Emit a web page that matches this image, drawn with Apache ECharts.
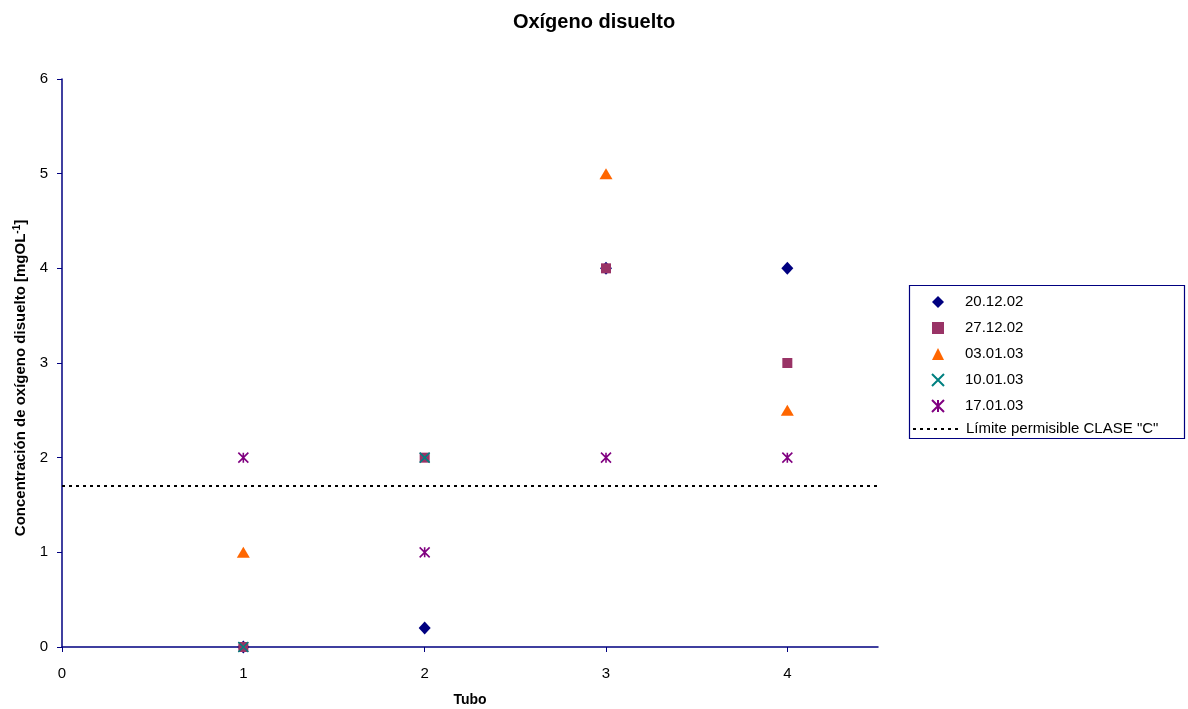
<!DOCTYPE html>
<html>
<head>
<meta charset="utf-8">
<script src="https://cdn.jsdelivr.net/npm/echarts@6/dist/echarts.min.js"></script>
<style>
  html, body { margin: 0; padding: 0; background: #fff; }
  #chart-container { width: 1188px; height: 709px; }
</style>
</head>
<body>
<div id="chart-container"></div>
<script>
const seriesNames = ['20.12.02', '27.12.02', '03.01.03', '10.01.03', '17.01.03'];
const tubos = [1, 2, 3, 4];
const d201202 = [0, 0.2, 4, 4];
const d271202 = [0, 2, 4, 3];
const d030103 = [1, null, 5, 2.5];
const d100103 = [0, 2, null, null];
const d170103 = [2, 1, 2, 2];
const limitName = 'Límite permisible CLASE "C"';
const limitValue = 1.7;
const limitRange = [0, 4.5];

const chartContainer = document.getElementById('chart-container');
const myChart = echarts.init(chartContainer);

const toPoints = (vals) => tubos.map((t, i) => [t, vals[i]]).filter(p => p[1] !== null);

const markers = [
    { data: d201202, symbol: 'diamond', size: [12, 13], color: '#000080' },
    { data: d271202, symbol: 'rect', size: 10, color: '#993366' },
    { data: d030103, symbol: 'triangle', size: [13, 11], color: '#FF6600' },
    { data: d100103, symbol: 'path://M0,0L10,10M10,0L0,10', size: 10, color: '#008080', stroke: true },
    { data: d170103, symbol: 'path://M0,0L10,10M10,0L0,10M5,0L5,10', size: 10, color: '#800080', stroke: true }
];

const series = markers.map((m, i) => ({
    name: seriesNames[i],
    type: 'scatter',
    symbol: m.symbol,
    symbolSize: m.size,
    itemStyle: m.stroke
        ? { color: 'rgba(0,0,0,0)', borderColor: m.color, borderWidth: 1.6, opacity: 1 }
        : { color: m.color, opacity: 1 },
    data: toPoints(m.data)
}));

series.push({
    name: limitName,
    type: 'line',
    symbol: 'none',
    itemStyle: { color: 'rgba(0,0,0,0)' },
    lineStyle: { color: '#000', width: 2, type: [3, 4] },
    data: [[limitRange[0], limitValue], [limitRange[1], limitValue]]
});

const axisColor = '#000080';
const legendText = { fontSize: 15, color: '#000', lineHeight: 16 };

const options = {
    backgroundColor: '#fff',
    animation: false,
    textStyle: { fontFamily: 'Liberation Sans, Arial, sans-serif' },
    title: {
        text: 'Oxígeno disuelto',
        left: 'center',
        top: 7,
        textStyle: { fontSize: 20, fontWeight: 'bold', color: '#000' }
    },
    // legend frame
    graphic: [{
        type: 'rect',
        left: 907,
        top: 283,
        shape: { width: 275, height: 153 },
        style: { fill: 'none', stroke: axisColor, lineWidth: 1.2 },
        silent: true
    }],
    legend: [{
        orient: 'vertical',
        left: 931,
        top: 294,
        padding: 0,
        itemGap: 10,
        itemWidth: 12,
        itemHeight: 12,
        textStyle: Object.assign({ padding: [0, 0, 0, 16] }, legendText),
        data: seriesNames
    }, {
        orient: 'vertical',
        left: 912,
        top: 421,
        padding: 0,
        itemWidth: 48,
        itemHeight: 12,
        textStyle: legendText,
        data: [limitName]
    }],
    grid: { left: 62, top: 79, right: 310, bottom: 62, outerBoundsMode: 'none' },
    xAxis: {
        type: 'value',
        min: 0,
        max: 4.5,
        interval: 1,
        name: 'Tubo',
        nameLocation: 'middle',
        nameGap: 46,
        nameTextStyle: { fontSize: 14, fontWeight: 'bold', color: '#000' },
        splitLine: { show: false },
        axisLine: { lineStyle: { color: axisColor, width: 1.5 } },
        axisTick: { show: true, length: 5, lineStyle: { color: axisColor } },
        axisLabel: {
            fontSize: 15, color: '#000', margin: 19,
            showMaxLabel: false,
            formatter: v => (Number.isInteger(v) ? String(v) : '')
        }
    },
    yAxis: {
        type: 'value',
        min: 0,
        max: 6,
        interval: 1,
        name: '{a|Concentración de oxígeno disuelto [mgOL}{s|-1}{a|]}',
        nameLocation: 'middle',
        nameGap: 27,
        nameTextStyle: {
            padding: [0, 30, 0, 0],
            rich: {
                a: { fontSize: 15, fontWeight: 'bold', color: '#000' },
                s: { fontSize: 10, fontWeight: 'bold', color: '#000', verticalAlign: 'top', padding: [0, 0, 8, 0] }
            }
        },
        splitLine: { show: false },
        axisLine: { show: true, lineStyle: { color: axisColor, width: 1.5 } },
        axisTick: { show: true, length: 5, lineStyle: { color: axisColor } },
        axisLabel: { fontSize: 15, color: '#000', margin: 14 }
    },
    series: series
};

myChart.setOption(options);

window.addEventListener('resize', function () {
    myChart.resize();
});
</script>
</body>
</html>
